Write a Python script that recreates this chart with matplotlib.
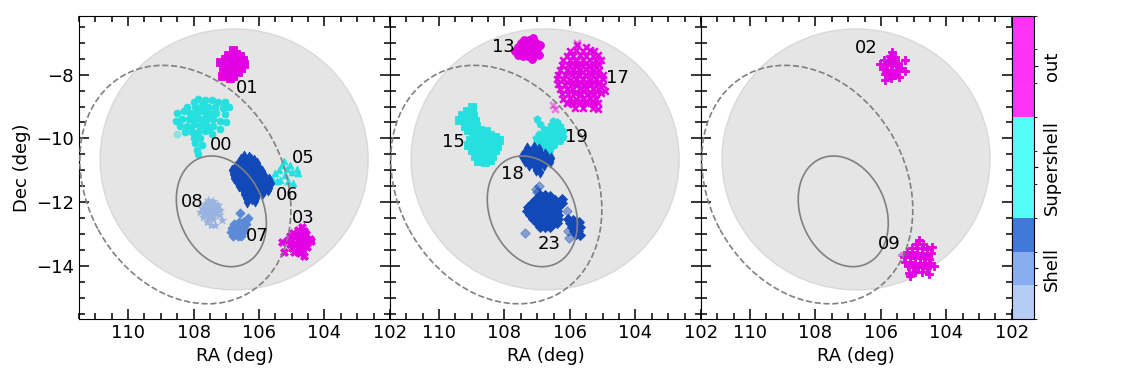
import numpy as np
import matplotlib
matplotlib.use('Agg')
import matplotlib.pyplot as plt
from matplotlib.patches import Circle, Ellipse
from matplotlib.colors import ListedColormap, BoundaryNorm
from matplotlib.cm import ScalarMappable
from matplotlib.ticker import MultipleLocator

# --- cores de grupo ---
MAG = '#e300e3'
CYA = '#26dfdf'
DBL = '#1249b8'
MBL = '#5b8ad6'
LBL = '#98b3e0'

# --- grupos (RA, Dec) ---
# painel 1
c01 = [(106.78, -7.23), (106.95, -7.38), (106.70, -7.35), (106.58, -7.40), (107.05, -7.50),
       (106.85, -7.50), (106.65, -7.50), (106.50, -7.55), (107.20, -7.60), (107.00, -7.62),
       (106.80, -7.62), (106.62, -7.65), (106.45, -7.68), (107.10, -7.75), (106.90, -7.75),
       (106.72, -7.78), (106.55, -7.80), (107.02, -7.90), (106.82, -7.90), (106.65, -7.92),
       (107.12, -8.05), (106.95, -8.02), (106.78, -8.05), (106.88, -8.12)]
c00 = [(107.85, -8.75), (107.65, -8.78), (107.45, -8.80), (107.25, -8.85), (107.05, -8.85),
       (108.00, -8.85), (108.20, -9.00), (107.95, -9.00), (107.75, -8.95), (107.55, -9.00),
       (107.35, -9.00), (107.10, -9.05), (106.92, -9.00), (108.50, -9.20), (108.30, -9.15),
       (108.10, -9.20), (107.90, -9.20), (107.70, -9.15), (107.50, -9.20), (107.30, -9.20),
       (107.05, -9.25), (108.55, -9.45), (108.35, -9.40), (108.15, -9.40), (107.95, -9.35),
       (107.80, -9.40), (107.60, -9.38), (107.40, -9.40), (107.20, -9.45), (107.00, -9.50),
       (108.40, -9.60), (108.20, -9.60), (108.00, -9.55), (107.80, -9.60), (107.60, -9.60),
       (107.40, -9.62), (107.20, -9.70), (108.25, -9.80), (108.05, -9.80), (107.85, -9.80),
       (107.65, -9.78), (107.45, -9.85), (108.00, -10.00), (107.80, -10.00), (107.95, -10.15),
       (107.75, -10.20), (107.90, -10.35), (107.85, -10.50),
       (107.88, -9.10), (107.62, -9.28), (107.72, -9.50), (108.08, -9.68), (107.52, -9.72)]
c00_fraco = [(108.50, -9.85)]
c05 = [(105.60, -11.25), (105.50, -11.10), (105.40, -11.00), (105.30, -10.85), (105.25, -10.70),
       (105.15, -10.95), (105.20, -11.15), (105.35, -11.30), (105.10, -11.35), (104.95, -11.40),
       (105.00, -11.05), (104.85, -10.95), (104.80, -11.10), (105.45, -11.35), (105.05, -10.85)]
c06 = [(106.45, -10.55), (106.30, -10.57), (106.55, -10.65), (106.40, -10.67), (106.25, -10.64),
       (106.15, -10.68), (106.60, -10.75), (106.45, -10.77), (106.32, -10.74), (106.18, -10.78),
       (106.05, -10.76), (106.70, -10.88), (106.55, -10.86), (106.42, -10.89), (106.30, -10.87),
       (106.18, -10.90), (106.02, -10.88), (106.82, -11.00), (106.68, -11.02), (106.55, -10.99),
       (106.42, -11.01), (106.30, -11.00), (106.15, -11.03), (106.00, -11.00), (105.90, -11.02),
       (106.78, -11.12), (106.65, -11.14), (106.50, -11.11), (106.38, -11.13), (106.25, -11.12),
       (106.12, -11.15), (105.98, -11.12), (105.85, -11.14), (106.75, -11.25), (106.62, -11.27),
       (106.48, -11.24), (106.35, -11.26), (106.22, -11.25), (106.10, -11.27), (105.95, -11.24),
       (105.82, -11.26), (105.70, -11.28), (106.68, -11.38), (106.55, -11.40), (106.42, -11.37),
       (106.30, -11.39), (106.18, -11.38), (106.05, -11.40), (105.92, -11.37), (105.78, -11.39),
       (105.62, -11.40), (106.60, -11.50), (106.45, -11.52), (106.32, -11.49), (106.20, -11.51),
       (106.08, -11.50), (105.95, -11.52), (105.82, -11.50), (105.68, -11.55), (106.50, -11.62),
       (106.38, -11.64), (106.25, -11.61), (106.12, -11.63), (106.00, -11.62), (105.85, -11.64),
       (105.72, -11.63), (106.45, -11.75), (106.32, -11.77), (106.18, -11.74), (106.05, -11.76),
       (105.90, -11.75), (106.40, -11.88), (106.22, -11.89), (106.10, -11.87), (106.38, -12.00),
       (106.12, -11.98)]
c08 = [(107.55, -11.95), (107.40, -11.97), (107.65, -12.05), (107.50, -12.08), (107.35, -12.05),
       (107.25, -12.10), (107.75, -12.18), (107.60, -12.20), (107.45, -12.22), (107.30, -12.20),
       (107.18, -12.25), (107.80, -12.32), (107.62, -12.35), (107.48, -12.38), (107.35, -12.35),
       (107.22, -12.40), (107.70, -12.48), (107.55, -12.50), (107.40, -12.52), (107.13, -12.55),
       (107.60, -12.62), (107.48, -12.73), (107.34, -12.73),
       (107.52, -12.28), (107.40, -12.45), (107.66, -12.28), (107.28, -12.30)]
c07 = [(106.57, -12.35), (106.33, -12.50), (106.62, -12.62), (106.48, -12.62), (106.75, -12.70),
       (106.60, -12.72), (106.48, -12.75), (106.40, -12.70), (106.82, -12.82), (106.68, -12.82),
       (106.55, -12.85), (106.45, -12.85), (106.85, -12.95), (106.72, -12.95), (106.58, -12.97),
       (106.48, -12.95), (106.80, -13.07), (106.65, -13.08), (106.55, -13.05)]
c03 = [(104.68, -12.78), (104.80, -12.88), (104.62, -12.92), (104.95, -12.98), (104.78, -13.00),
       (104.55, -13.00), (105.05, -13.08), (104.88, -13.08), (104.72, -13.10), (104.58, -13.10),
       (104.45, -13.15), (105.30, -13.25), (105.12, -13.18), (104.98, -13.20), (104.82, -13.20),
       (104.68, -13.22), (104.52, -13.25), (104.40, -13.22), (105.05, -13.32), (104.90, -13.32),
       (104.75, -13.35), (104.60, -13.35), (104.98, -13.45), (104.82, -13.45), (104.68, -13.48),
       (104.52, -13.42), (105.25, -13.56), (104.92, -13.58), (104.75, -13.60), (104.62, -13.68)]

# painel 2
c13 = [(107.40, -6.92), (107.25, -6.90), (107.12, -6.86), (107.50, -7.00), (107.35, -7.02),
       (107.20, -7.00), (107.05, -7.02), (106.92, -7.07), (107.60, -7.12), (107.45, -7.12),
       (107.30, -7.15), (107.15, -7.12), (107.02, -7.18), (107.68, -7.25), (107.52, -7.25),
       (107.38, -7.28), (107.22, -7.25), (107.08, -7.30), (107.60, -7.38), (107.42, -7.40),
       (107.28, -7.42), (107.17, -7.52), (106.94, -7.39)]
c17 = [(105.78, -7.08), (105.50, -7.12),
       (106.00, -7.25), (105.80, -7.24), (105.60, -7.26), (105.40, -7.23), (105.25, -7.27),
       (106.10, -7.40), (105.90, -7.41), (105.70, -7.38), (105.50, -7.40), (105.30, -7.42), (105.15, -7.39),
       (106.20, -7.55), (106.00, -7.54), (105.80, -7.56), (105.60, -7.55), (105.40, -7.53), (105.20, -7.56),
       (105.05, -7.55),
       (106.25, -7.70), (106.05, -7.71), (105.85, -7.69), (105.65, -7.70), (105.45, -7.72), (105.25, -7.70),
       (105.10, -7.71),
       (106.30, -7.85), (106.10, -7.84), (105.90, -7.86), (105.70, -7.85), (105.50, -7.83), (105.30, -7.86),
       (105.10, -7.85),
       (106.35, -8.00), (106.15, -8.01), (105.95, -7.99), (105.75, -8.00), (105.55, -8.02), (105.35, -8.00),
       (105.15, -7.99), (105.00, -8.01),
       (106.40, -8.15), (106.20, -8.14), (106.00, -8.16), (105.80, -8.15), (105.60, -8.13), (105.40, -8.16),
       (105.20, -8.15), (105.00, -8.14),
       (106.35, -8.30), (106.15, -8.31), (105.95, -8.29), (105.75, -8.30), (105.55, -8.32), (105.35, -8.30),
       (105.15, -8.29), (104.98, -8.31),
       (106.30, -8.45), (106.10, -8.44), (105.90, -8.46), (105.70, -8.45), (105.50, -8.43), (105.30, -8.46),
       (105.10, -8.45), (104.93, -8.50),
       (106.25, -8.60), (106.05, -8.61), (105.85, -8.59), (105.65, -8.60), (105.45, -8.62), (105.25, -8.60),
       (105.05, -8.59),
       (106.20, -8.75), (106.00, -8.74), (105.80, -8.76), (105.60, -8.75), (105.40, -8.73), (105.20, -8.76),
       (106.10, -8.90), (105.90, -8.91), (105.70, -8.89), (105.50, -8.90), (105.30, -8.92), (105.15, -8.90),
       (105.85, -9.05), (105.60, -9.04), (105.30, -9.06), (105.13, -9.08),
       (106.10, -8.88),
       # pontos intermediários do núcleo denso
       (105.90, -7.62), (105.70, -7.62), (105.50, -7.63), (105.30, -7.64),
       (106.00, -7.92), (105.80, -7.93), (105.60, -7.92), (105.40, -7.93), (105.20, -7.92),
       (106.10, -8.22), (105.90, -8.23), (105.70, -8.22), (105.50, -8.23), (105.30, -8.22), (105.10, -8.23),
       (106.00, -8.52), (105.80, -8.53), (105.60, -8.52), (105.40, -8.53), (105.20, -8.52),
       (105.90, -8.82), (105.70, -8.83), (105.50, -8.82), (105.30, -8.83)]
c17_fraco = [(106.46, -9.07), (106.52, -8.95), (105.78, -7.02)]
c15 = [(109.00, -9.02), (109.15, -9.15), (108.98, -9.15), (109.30, -9.28), (109.12, -9.30),
       (108.95, -9.30), (109.38, -9.42), (109.22, -9.45), (109.05, -9.45), (108.90, -9.45),
       (109.20, -9.60), (109.02, -9.60), (108.88, -9.62), (109.10, -9.75), (108.95, -9.78),
       (108.75, -9.75), (108.55, -9.78), (108.85, -9.90), (108.65, -9.90), (108.45, -9.88),
       (108.30, -9.95), (109.05, -10.05), (108.88, -10.05), (108.70, -10.05), (108.52, -10.05),
       (108.35, -10.08), (108.18, -10.05), (109.10, -10.20), (108.92, -10.20), (108.75, -10.22),
       (108.58, -10.20), (108.40, -10.22), (108.22, -10.25), (108.98, -10.38), (108.80, -10.38),
       (108.62, -10.38), (108.45, -10.40), (108.28, -10.38), (108.90, -10.55), (108.72, -10.55),
       (108.55, -10.55), (108.38, -10.55), (108.80, -10.72), (108.60, -10.75), (108.45, -10.68)]
c19 = [(107.00, -9.38), (106.52, -9.45), (106.40, -9.50), (106.90, -9.55), (106.58, -9.58),
       (106.45, -9.62), (106.30, -9.60), (106.80, -9.70), (106.65, -9.70), (106.50, -9.72),
       (106.35, -9.75), (106.22, -9.78), (106.95, -9.85), (106.80, -9.85), (106.65, -9.85),
       (106.50, -9.88), (106.35, -9.90), (106.20, -9.95), (107.05, -9.98), (106.90, -10.00),
       (106.75, -10.00), (106.60, -10.02), (106.45, -10.05), (106.30, -10.08), (106.95, -10.15),
       (106.80, -10.15), (106.65, -10.18), (106.50, -10.20), (106.85, -10.32), (106.72, -10.30),
       (106.60, -10.35), (106.75, -10.45)]
c18 = [(107.30, -10.30), (107.10, -10.28), (106.95, -10.32), (107.38, -10.42), (107.22, -10.42),
       (107.05, -10.42), (106.90, -10.45), (106.75, -10.48), (107.45, -10.55), (107.30, -10.55),
       (107.15, -10.55), (107.00, -10.57), (106.85, -10.58), (106.70, -10.58), (106.58, -10.62),
       (107.38, -10.70), (107.22, -10.70), (107.08, -10.70), (106.92, -10.72), (106.78, -10.72),
       (106.62, -10.75), (107.25, -10.85), (107.10, -10.85), (106.95, -10.88), (106.80, -10.85),
       (107.05, -11.00), (106.92, -11.05)]
c23 = [(106.90, -11.78), (106.75, -11.77), (106.62, -11.80),
       (107.05, -11.90), (106.90, -11.91), (106.75, -11.89), (106.60, -11.90), (106.45, -11.92), (106.25, -11.90),
       (107.15, -12.02), (107.00, -12.03), (106.85, -12.01), (106.70, -12.02), (106.55, -12.04), (106.40, -12.02),
       (106.25, -12.03),
       (107.28, -12.15), (107.12, -12.16), (106.98, -12.14), (106.82, -12.15), (106.68, -12.17), (106.52, -12.15),
       (106.38, -12.14),
       (107.30, -12.28), (107.15, -12.27), (107.00, -12.29), (106.85, -12.28), (106.70, -12.26), (106.55, -12.29),
       (106.40, -12.28),
       (107.22, -12.40), (107.08, -12.41), (106.92, -12.39), (106.78, -12.40), (106.62, -12.42), (106.48, -12.40),
       (106.35, -12.39),
       (107.12, -12.52), (106.98, -12.53), (106.82, -12.51), (106.68, -12.52), (106.52, -12.54), (106.38, -12.52),
       (106.05, -12.52), (105.90, -12.55),
       (107.00, -12.65), (106.85, -12.66), (106.70, -12.64), (106.55, -12.65), (106.40, -12.67), (106.00, -12.65),
       (105.85, -12.66), (105.72, -12.64),
       (106.90, -12.78), (106.75, -12.77), (106.60, -12.79), (105.95, -12.78), (105.80, -12.79), (105.68, -12.77),
       (105.88, -12.90), (105.75, -12.91), (105.82, -13.00), (105.70, -13.02)]
c23_fraco = [(106.95, -11.50), (107.05, -11.58), (107.00, -11.68), (107.36, -12.97),
             (106.02, -13.14), (106.10, -12.28), (106.05, -12.90)]

# painel 3
c02 = [(105.66, -7.30), (105.72, -7.42), (105.58, -7.45), (105.25, -7.55), (105.90, -7.55),
       (105.78, -7.55), (105.62, -7.58), (105.48, -7.62), (106.02, -7.68), (105.85, -7.68),
       (105.70, -7.70), (105.55, -7.72), (105.40, -7.78), (105.25, -7.88), (105.95, -7.82),
       (105.80, -7.85), (105.65, -7.85), (105.50, -7.88), (105.88, -7.98), (105.72, -8.00),
       (105.58, -8.00), (105.46, -8.08), (105.87, -8.18), (105.70, -8.12)]
c09 = [(104.85, -13.20), (104.72, -13.30), (104.92, -13.32), (104.45, -13.40), (105.05, -13.45),
       (104.90, -13.45), (104.75, -13.45), (104.60, -13.48), (105.20, -13.58), (105.05, -13.58),
       (104.90, -13.60), (104.75, -13.60), (104.60, -13.62), (104.47, -13.60),
       (105.28, -13.72), (105.12, -13.72), (104.97, -13.75), (104.82, -13.75), (104.68, -13.75),
       (104.52, -13.78), (105.25, -13.87), (105.10, -13.88), (104.95, -13.90), (104.80, -13.90),
       (104.65, -13.90), (104.50, -13.92), (104.39, -14.00), (105.18, -14.02), (105.02, -14.05),
       (104.88, -14.05), (104.72, -14.05), (104.58, -14.08), (105.15, -14.22), (104.95, -14.20),
       (104.75, -14.20), (104.54, -14.25), (105.10, -14.32)]
c09_fraco = [(105.39, -13.67)]

# (pontos, cor, marcador, tamanho, rótulo, posição do rótulo)
paineis = [
    [(c00, CYA, 'o', 24, '00', (107.15, -10.21)),
     (c01, MAG, 's', 28, '01', (106.35, -8.43)),
     (c05, CYA, '^', 24, '05', (104.64, -10.61)),
     (c06, DBL, 'd', 30, '06', (105.13, -11.79)),
     (c08, LBL, '*', 32, '08', (108.04, -12.00)),
     (c07, MBL, 'D', 22, '07', (106.05, -13.07)),
     (c03, MAG, 'X', 32, '03', (104.64, -12.49))],
    [(c13, MAG, 'o', 32, '13', (108.02, -7.13)),
     (c17, MAG, 'x', 22, '17', (104.55, -8.11)),
     (c15, CYA, 's', 32, '15', (109.56, -10.12)),
     (c19, CYA, 'p', 30, '19', (105.79, -9.95)),
     (c18, DBL, 'd', 32, '18', (107.77, -11.11)),
     (c23, DBL, 'D', 26, '23', (106.64, -13.32))],
    [(c02, MAG, 'P', 36, '02', (106.45, -7.16)),
     (c09, MAG, 'P', 40, '09', (105.74, -13.30))],
]
fracos = [[(c00_fraco, CYA, 'o')],
          [(c17_fraco, MAG, 'x'), (c23_fraco, DBL, 'D')],
          [(c09_fraco, MAG, 'P')]]

# regiões de referência
circ_centro, circ_raio = (106.76, -10.66), 4.1
elip_int = dict(xy=(107.15, -12.29), width=3.59, height=2.60, angle=68.7)
elip_ext = dict(xy=(108.25, -11.45), width=7.83, height=6.03, angle=62.7)

cb_cores = ['#b5cdf5', '#88aeef', '#4278d8', '#55fdf8', '#53fcf7', '#55fdf8',
            '#ff33f5', '#fd31f3', '#ff33f5']
cb_rotulos = ['Shell', 'Supershell', 'out']

plt.rcParams['font.size'] = 13

fig = plt.figure(figsize=(11.25, 3.75), dpi=100)
esq, base, larg, alt = 0.0702, 0.1493, 0.2764, 0.8088

for i, grupos in enumerate(paineis):
    ax = fig.add_axes([esq + i * larg, base, larg, alt])
    ax.add_patch(Circle(circ_centro, circ_raio, color='gray', alpha=0.2, zorder=0))

    for pts, cor, mk, tam, rot, pos in grupos:
        pts = np.array(pts)
        lw = 1.8 if mk == 'x' else 0.6
        ax.scatter(pts[:, 0], pts[:, 1], s=tam, c=cor, edgecolors=cor, marker=mk,
                   linewidths=lw, zorder=2)
        ax.text(pos[0], pos[1], rot, ha='center', va='center', fontsize=13, zorder=5)
    for pts, cor, mk in fracos[i]:
        pts = np.array(pts)
        lw = 1.8 if mk == 'x' else 0.6
        ax.scatter(pts[:, 0], pts[:, 1], s=24, c=cor, edgecolors=cor, marker=mk,
                   linewidths=lw, alpha=0.45, zorder=2)

    ax.add_patch(Ellipse(**elip_int, fill=False, ec='gray', lw=1.2, zorder=3))
    ax.add_patch(Ellipse(**elip_ext, fill=False, ec='gray', lw=1.2, ls='--', zorder=3))

    ax.set_xlim(111.5, 102)
    ax.set_ylim(-15.67, -6.15)
    ax.xaxis.set_major_locator(MultipleLocator(2))
    ax.xaxis.set_minor_locator(MultipleLocator(0.5))
    ax.yaxis.set_major_locator(MultipleLocator(2))
    ax.yaxis.set_minor_locator(MultipleLocator(0.5))
    ax.tick_params(which='both', direction='in', top=True, right=True, width=1.1)
    ax.tick_params(which='major', length=7)
    ax.tick_params(which='minor', length=4)
    ax.set_xlabel('RA (deg)', fontsize=13)
    if i == 0:
        ax.set_ylabel('Dec (deg)', fontsize=13)
    else:
        ax.set_yticklabels([])

# barra de cores
cax = fig.add_axes([esq + 3 * larg + 0.0004, base, 0.0196, alt])
cmap = ListedColormap(cb_cores)
norm = BoundaryNorm(np.arange(len(cb_cores) + 1), cmap.N)
cb = fig.colorbar(ScalarMappable(norm=norm, cmap=cmap), cax=cax, ticks=[1.5, 4.5, 7.5])
cb.ax.set_yticklabels(cb_rotulos, rotation=90, va='center', fontsize=13)
cb.ax.tick_params(length=3)

plt.savefig('out.png', dpi=100)
